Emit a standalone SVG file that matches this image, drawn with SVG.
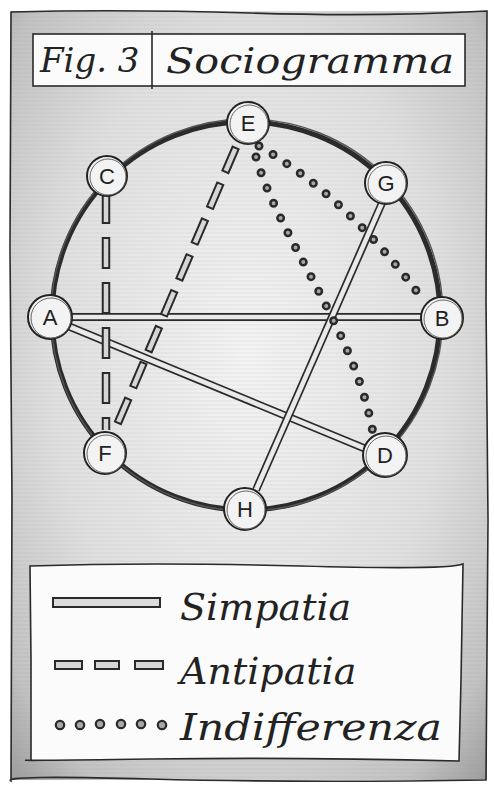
<svg xmlns="http://www.w3.org/2000/svg" width="494" height="785" viewBox="0 0 494 785">
<defs>
<radialGradient id="paper" cx="0.5" cy="0.45" r="0.75">
<stop offset="0" stop-color="#f4f4f4"/>
<stop offset="0.55" stop-color="#e0e0e0"/>
<stop offset="0.85" stop-color="#c2c2c2"/>
<stop offset="1" stop-color="#9a9a9a"/>
</radialGradient>
<pattern id="hatch" width="6" height="4" patternUnits="userSpaceOnUse">
<line x1="0" y1="1" x2="6" y2="1" stroke="#888" stroke-width="0.6" opacity="0.25"/>
</pattern>
<style>
.frame{fill:none;stroke:#2a2a2a;stroke-width:1.6}
.box{fill:#fbfbfb;stroke:#2a2a2a;stroke-width:1.6}
.script{font-family:"DejaVu Serif","Liberation Serif",serif;font-style:italic;fill:#222}
.ring{fill:none;stroke:#2b2b2b;stroke-width:5}
.ring2{fill:none;stroke:#555;stroke-width:1.4}
.node circle.o{fill:#f3f3f3;stroke:#222;stroke-width:2}
.node circle.i{fill:none;stroke:#666;stroke-width:1}
.node text{font-family:"Liberation Sans",Arial,sans-serif;font-size:22px;fill:#222;text-anchor:middle}
.simO{stroke:#2a2a2a;stroke-width:8;fill:none;stroke-linecap:butt}
.simI{stroke:#e9e9e9;stroke-width:4.6;fill:none}
.antO{stroke:#2a2a2a;stroke-width:8.5;fill:none}
.antI{stroke:#d6d6d6;stroke-width:4.5;fill:none}
.dotO{stroke:#2a2a2a;stroke-width:9;fill:none;stroke-linecap:round;stroke-dasharray:0 16.5}
.dotI{stroke:#a8a8a8;stroke-width:4;fill:none;stroke-linecap:round;stroke-dasharray:0 16.5}
</style>
</defs>
<rect x="0" y="0" width="494" height="785" fill="#ffffff"/>
<rect x="11" y="11" width="476" height="769" fill="url(#paper)"/>
<rect x="11" y="11" width="476" height="769" fill="url(#hatch)"/>
<path class="frame" d="M11,12 Q120,9 250,13 T487,11 L486,300 L488,520 L486,780 Q300,783 150,779 T11,781 L12,500 L10,250 Z"/>

<g id="title">
<rect class="box" x="33" y="34" width="432" height="52"/>
<line x1="152" y1="31" x2="152" y2="89" stroke="#2a2a2a" stroke-width="1.6"/>
<text class="script" x="40" y="72" font-size="34">Fig. 3</text>
<text class="script" x="166" y="73" font-size="36" textLength="288" lengthAdjust="spacingAndGlyphs">Sociogramma</text>
</g>

<circle class="ring" cx="246" cy="316" r="194"/>
<circle class="ring2" cx="247" cy="315" r="196"/>

<g id="connectors">
<path class="simO" d="M70,317 L422,317"/>
<path class="simI" d="M70,317 L422,317"/>
<path class="simO" d="M68,326 L366,449"/>
<path class="simI" d="M68,326 L366,449"/>
<path class="simO" d="M382,203 L256,490"/>
<path class="simI" d="M382,203 L256,490"/>
<path class="antO" d="M106,192 L106,430" stroke-dasharray="32 13"/>
<path class="antI" d="M106,192 L106,430" stroke-dasharray="28 17" stroke-dashoffset="-2"/>
<path class="antO" d="M236,147 L114,432" stroke-dasharray="28 11"/>
<path class="antI" d="M236,147 L114,432" stroke-dasharray="24 15" stroke-dashoffset="-2"/>
<path class="dotO" d="M259,146 Q345,196 418,293"/>
<path class="dotI" d="M259,146 Q345,196 418,293"/>
<path class="dotO" d="M256,157 C280,240 355,330 373,433"/>
<path class="dotI" d="M256,157 C280,240 355,330 373,433"/>
</g>

<g id="node-E" class="node"><circle class="o" cx="248" cy="123" r="21"/><circle class="i" cx="249" cy="124" r="19"/><text x="248" y="131">E</text></g>
<g id="node-C" class="node"><circle class="o" cx="107" cy="176" r="20"/><circle class="i" cx="108" cy="177" r="18"/><text x="107" y="184">C</text></g>
<g id="node-G" class="node"><circle class="o" cx="386" cy="183" r="21"/><circle class="i" cx="387" cy="184" r="19"/><text x="386" y="191">G</text></g>
<g id="node-A" class="node"><circle class="o" cx="50" cy="317" r="22"/><circle class="i" cx="51" cy="318" r="20"/><text x="50" y="325">A</text></g>
<g id="node-B" class="node"><circle class="o" cx="442" cy="318" r="21"/><circle class="i" cx="443" cy="319" r="19"/><text x="442" y="326">B</text></g>
<g id="node-F" class="node"><circle class="o" cx="105" cy="453" r="21"/><circle class="i" cx="106" cy="454" r="19"/><text x="105" y="461">F</text></g>
<g id="node-D" class="node"><circle class="o" cx="385" cy="455" r="22"/><circle class="i" cx="386" cy="456" r="20"/><text x="385" y="463">D</text></g>
<g id="node-H" class="node"><circle class="o" cx="245" cy="509" r="21"/><circle class="i" cx="246" cy="510" r="19"/><text x="245" y="517">H</text></g>

<g id="legend">
<path class="box" d="M30,566 Q150,562 300,566 T463,564 L461,680 L459,761 Q300,757 150,759 T31,760 L31,660 Z"/>
<rect x="53" y="598" width="107" height="9" fill="#dcdcdc" stroke="#2a2a2a" stroke-width="2"/>
<text class="script" x="180" y="620" font-size="38">Simpatia</text>
<rect x="55" y="661" width="27" height="8" fill="#d6d6d6" stroke="#2a2a2a" stroke-width="2"/>
<rect x="95" y="661" width="24" height="8" fill="#d6d6d6" stroke="#2a2a2a" stroke-width="2"/>
<rect x="135" y="661" width="28" height="8" fill="#d6d6d6" stroke="#2a2a2a" stroke-width="2"/>
<text class="script" x="180" y="684" font-size="38">Antipatia</text>
<g fill="#a8a8a8" stroke="#2a2a2a" stroke-width="2.2">
<circle cx="60" cy="725" r="4.2"/><circle cx="80" cy="725" r="4.2"/><circle cx="100" cy="724" r="4.2"/>
<circle cx="121" cy="724" r="4.2"/><circle cx="141" cy="724" r="4.2"/><circle cx="162" cy="725" r="4.2"/>
</g>
<text class="script" x="180" y="740" font-size="38" textLength="262" lengthAdjust="spacingAndGlyphs">Indifferenza</text>
</g>
</svg>
